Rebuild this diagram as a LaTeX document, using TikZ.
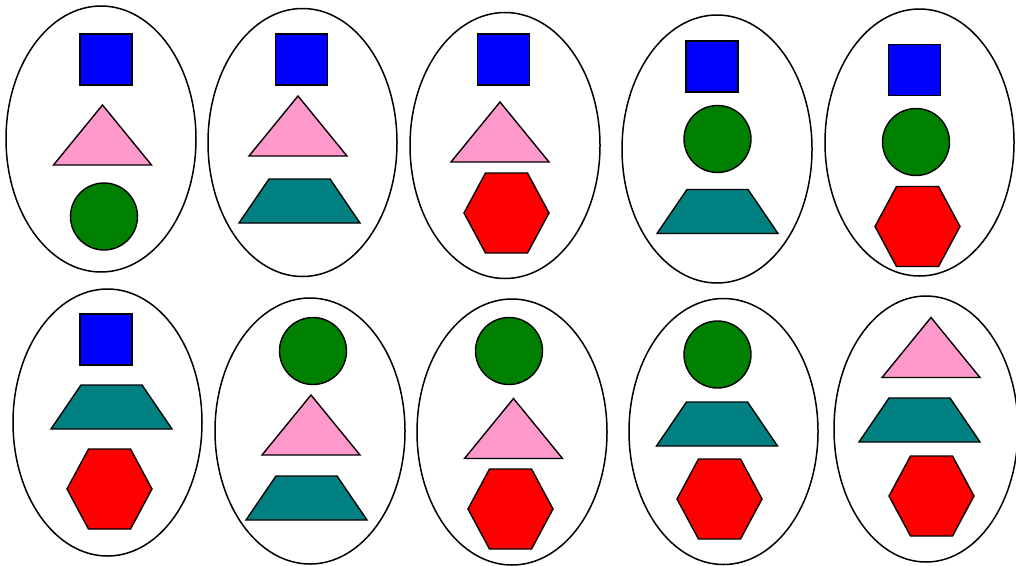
\documentclass[tikz,border=0pt]{standalone}
\begin{document}
\begin{tikzpicture}[x=1pt,y=-1pt,line join=miter,
  outline/.style={draw=black,line width=1.5pt,fill=white},
  shp/.style={draw=black,line width=1.4pt},
  sq/.pic={\filldraw[shp,fill=blue] (-26,-25.5) rectangle (26,25.5);},
  tri/.pic={\filldraw[shp,fill=pink1] (0,-30) -- (49,30) -- (-49,30) -- cycle;},
  circ/.pic={\filldraw[shp,fill=green2] (0,0) circle[radius=33.5];},
  trap/.pic={\filldraw[shp,fill=teal1] (-60.5,22) -- (60.5,22) -- (30.5,-22) -- (-30.5,-22) -- cycle;},
  hex/.pic={\filldraw[shp,fill=red] (-42.5,0) -- (-21,-40) -- (21,-40) -- (42.5,0) -- (21,40) -- (-21,40) -- cycle;}
]
\definecolor{pink1}{HTML}{FF99CC}
\definecolor{green2}{HTML}{008000}
\definecolor{teal1}{HTML}{008080}
\useasboundingbox (0,0) rectangle (1016,565);
\clip (0,0) rectangle (1016,565);
% row 1
\draw[outline] (101,139) ellipse[x radius=95,y radius=133];
\pic at (106,59.5) {sq};
\pic at (102.5,135) {tri};
\pic at (104,216.5) {circ};

\draw[outline] (302.5,142.5) ellipse[x radius=94.5,y radius=134];
\pic at (301.5,59.5) {sq};
\pic at (298,126) {tri};
\pic at (299.5,201) {trap};

\draw[outline] (505,145.5) ellipse[x radius=95,y radius=133];
\pic at (503.5,59.5) {sq};
\pic at (500,132) {tri};
\pic at (506.5,213) {hex};

\draw[outline] (717,149) ellipse[x radius=95,y radius=134];
\pic at (712,66.5) {sq};
\pic at (717.5,139) {circ};
\pic at (717.5,211.5) {trap};

\draw[outline] (919.5,142.5) ellipse[x radius=94.5,y radius=133.5];
\pic at (914.5,70) {sq};
\pic at (916,142) {circ};
\pic at (917.5,226.5) {hex};
% row 2
\draw[outline] (107.5,422.5) ellipse[x radius=94.5,y radius=133.5];
\pic at (106,339.5) {sq};
\pic at (111.5,407) {trap};
\pic at (109.5,489) {hex};

\draw[outline] (310,431) ellipse[x radius=95,y radius=133];
\pic at (313,351) {circ};
\pic at (311,425) {tri};
\pic at (306.5,498) {trap};

\draw[outline] (512,432) ellipse[x radius=95,y radius=133];
\pic at (509,351) {circ};
\pic at (513.5,428.5) {tri};
\pic at (510.5,509) {hex};

\draw[outline] (723.5,431.5) ellipse[x radius=94.5,y radius=133];
\pic at (717.5,354.5) {circ};
\pic at (717,424) {trap};
\pic at (719.5,499) {hex};

\draw[outline] (926,429) ellipse[x radius=92,y radius=133];
\pic at (931,347.5) {tri};
\pic at (919.5,420) {trap};
\pic at (931.5,496) {hex};
\end{tikzpicture}
\end{document}
